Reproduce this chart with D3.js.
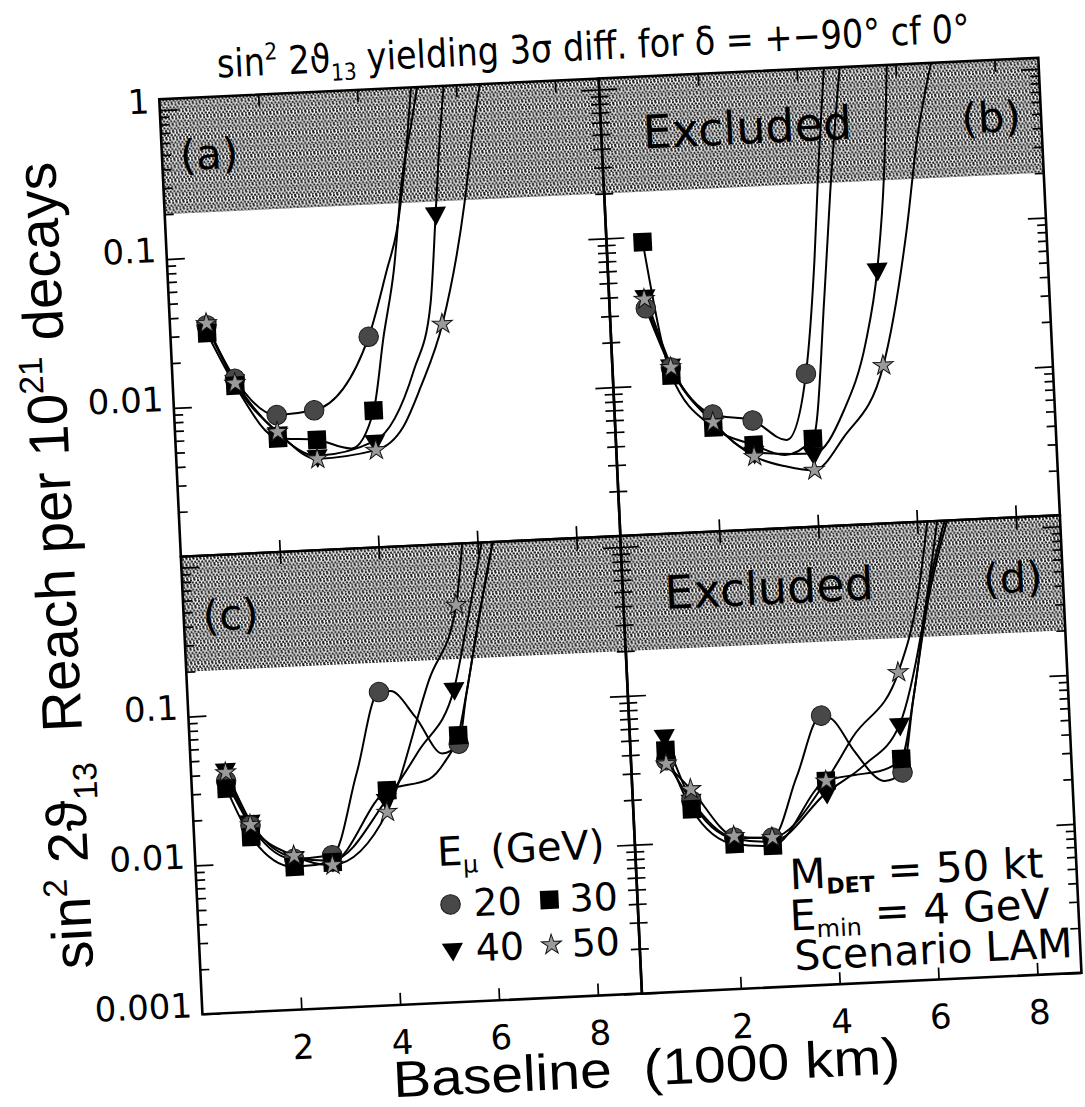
<!DOCTYPE html>
<html>
<head>
<meta charset="utf-8">
<script src="https://cdn.jsdelivr.net/npm/d3@7"></script>
<style>
  body { margin: 0; background: #fff; }
  svg { display: block; }
</style>
</head>
<body>
<script>
// ---------------- data ----------------
// each point: [baseline (1000 km), sin^2 2theta13 reach, 1 = marker drawn]
const X_DOMAIN = [0, 8.89];
const Y_DOMAIN = [0.001, 1.185];
const X_TICKS = [2, 4, 6, 8];
const Y_LABELS_TOP = [1, 0.1, 0.01];
const Y_LABELS_BOTTOM = [0.1, 0.01, 0.001];
const EXCLUDED_LIMIT = 0.2;
const PANEL_LABELS = ["(a)", "(b)", "(c)", "(d)"];
const LEGEND_ENERGIES = ["20", "30", "40", "50"];

const aCircle   = [[0.74,0.035,1],[1.26,0.015,1],[2.07,0.0083,1],[2.83,0.0087,1],[4.0,0.026,1],[4.43,0.072,0],[4.67,0.132,0],[4.97,0.56,0],[5.1,1.25,0]];
const aSquare   = [[0.74,0.031,1],[1.26,0.0135,1],[2.07,0.0058,1],[2.86,0.0055,1],[3.55,0.0047,0],[4.03,0.0083,1],[4.3,0.0257,0],[4.57,0.071,0],[4.82,0.286,0],[5.08,0.72,0],[5.23,1.25,0]];
const aTriangle = [[0.74,0.034,1],[1.26,0.0145,1],[2.07,0.0063,1],[2.85,0.0043,1],[4.03,0.0052,1],[4.88,0.015,0],[5.28,0.0415,0],[5.47,0.167,1],[5.59,0.42,0],[5.76,1.25,0]];
const aStar     = [[0.74,0.036,1],[1.26,0.014,1],[2.07,0.0064,1],[2.85,0.0041,1],[4.04,0.0045,1],[4.61,0.0063,0],[5.0,0.0115,0],[5.5,0.030,1],[6.06,0.19,0],[6.28,0.53,0],[6.5,1.25,0]];

const bCircle   = [[0.73,0.033,1],[1.18,0.013,1],[1.98,0.0061,1],[2.78,0.0054,1],[3.45,0.0039,0],[3.9,0.0107,1],[4.18,0.0615,0],[4.36,0.286,0],[4.56,1.25,0]];
const bSquare   = [[0.73,0.092,1],[1.18,0.0115,1],[1.98,0.005,1],[2.78,0.0037,1],[3.4,0.0031,0],[3.98,0.0039,1],[4.35,0.036,0],[4.56,0.17,0],[4.88,1.25,0]];
const bTriangle = [[0.73,0.04,1],[1.18,0.0135,1],[1.98,0.0054,1],[2.78,0.0033,1],[3.98,0.0031,1],[4.63,0.0059,0],[5.13,0.0163,0],[5.44,0.051,1],[5.66,0.21,0],[5.83,1.25,0]];
const bStar     = [[0.71,0.038,1],[1.18,0.013,1],[1.98,0.0054,1],[2.78,0.0031,1],[3.4,0.0026,0],[3.98,0.0024,1],[4.6,0.0039,0],[5.47,0.0115,1],[6.08,0.096,0],[6.35,0.345,0],[6.74,1.25,0]];

const cCircle   = [[0.70,0.036,1],[1.15,0.0178,1],[2.0,0.0103,1],[2.77,0.0106,1],[3.34,0.0367,0],[3.87,0.127,1],[4.1,0.128,0],[4.58,0.0843,0],[5.09,0.047,0],[5.43,0.054,1],[5.62,0.11,0],[5.96,0.377,0],[6.32,1.25,0]];
const cSquare   = [[0.70,0.032,1],[1.15,0.0149,1],[2.0,0.0091,1],[2.77,0.0095,1],[3.94,0.0277,1],[4.8,0.032,0],[5.15,0.042,0],[5.43,0.0615,1],[5.64,0.12,0],[5.98,0.4,0],[6.33,1.25,0]];
const cTriangle = [[0.70,0.043,1],[1.15,0.019,1],[2.0,0.0105,1],[2.77,0.0098,1],[3.92,0.024,1],[4.62,0.05,0],[5.39,0.127,1],[5.68,0.31,0],[6.1,1.25,0]];
const cStar     = [[0.70,0.041,1],[1.15,0.018,1],[2.0,0.0108,1],[2.77,0.0091,1],[3.92,0.0198,1],[4.9,0.15,0],[5.51,0.46,1],[5.7,1.25,0]];

const dCircle   = [[0.71,0.036,1],[1.18,0.019,1],[2.01,0.0104,1],[2.78,0.0101,1],[3.33,0.0254,0],[3.88,0.064,1],[4.1,0.06,0],[4.51,0.0364,0],[5.1,0.0223,0],[5.47,0.0251,1],[5.75,0.075,0],[6.15,0.35,0],[6.63,1.25,0]];
const dSquare   = [[0.71,0.042,1],[1.18,0.0166,1],[2.01,0.0094,1],[2.78,0.0089,1],[3.92,0.0233,1],[4.5,0.025,0],[5.0,0.026,0],[5.46,0.031,1],[5.78,0.085,0],[6.12,0.35,0],[6.58,1.25,0]];
const dTriangle = [[0.70,0.0527,1],[1.18,0.019,1],[2.01,0.0102,1],[2.78,0.0095,1],[3.92,0.0195,1],[4.71,0.029,0],[5.46,0.053,1],[5.99,0.22,0],[6.42,1.25,0]];
const dStar     = [[0.71,0.034,1],[1.18,0.0226,1],[2.01,0.0106,1],[2.78,0.0101,1],[3.92,0.0233,1],[4.5,0.045,0],[5.48,0.118,1],[5.94,0.37,0],[6.22,1.25,0]];

// ---------------- drawing ----------------
const FONT_GEO = "'DejaVu Sans', sans-serif";
const FONT_HELV = "'Liberation Sans', Arial, sans-serif";

const svg = d3.select("body").append("svg").attr("width", 1085).attr("height", 1107);
const defs = svg.append("defs");

// stipple texture for the excluded region
const pat = defs.append("pattern").attr("id", "stipple")
  .attr("patternUnits", "userSpaceOnUse").attr("width", 7).attr("height", 7);
pat.append("rect").attr("width", 7).attr("height", 7).attr("fill", "#fff");
pat.selectAll("circle").data([[1,1.2],[4.6,0.6],[2.8,3.4],[6.2,3.8],[0.6,5.6],[4.2,5.9]])
  .join("circle").attr("cx", d => d[0]).attr("cy", d => d[1]).attr("r", 1.2).attr("fill", "#1a1a1a");

const root = svg.append("g").attr("transform", "rotate(-2.7,600,550)");

const COLS = [[181, 621], [621, 1061]];
const ROWS = [[79, 537], [537, 995]];

const panels = [
  {key: "a", col: 0, row: 0, excl: false, series: [aCircle, aSquare, aTriangle, aStar]},
  {key: "b", col: 1, row: 0, excl: true,  series: [bCircle, bSquare, bTriangle, bStar]},
  {key: "c", col: 0, row: 1, excl: false, series: [cCircle, cSquare, cTriangle, cStar]},
  {key: "d", col: 1, row: 1, excl: true,  series: [dCircle, dSquare, dTriangle, dStar]}
];
const KINDS = ["circle", "square", "triangle", "star"];

function markerPath(kind) {
  if (kind === "circle") return d3.symbol(d3.symbolCircle, 300)();
  if (kind === "square") return d3.symbol(d3.symbolSquare, 340)();
  if (kind === "triangle") return d3.symbol(d3.symbolTriangle, 195)();
  return d3.symbol(d3.symbolStar, 125)();
}
function styleMarker(sel, kind) {
  sel.attr("d", markerPath(kind));
  if (kind === "circle") sel.attr("fill", "#484848").attr("stroke", "#1a1a1a").attr("stroke-width", 1);
  else if (kind === "square") sel.attr("fill", "#000");
  else if (kind === "triangle") sel.attr("fill", "#000");
  else sel.attr("fill", "#9a9a9a").attr("stroke", "#111").attr("stroke-width", 1);
}

// y tick values (decades and 2..9 minor)
const yTickVals = [];
for (let e = -3; e <= 0; e++) for (let k = 1; k <= 9; k++) {
  const v = k * Math.pow(10, e);
  if (v >= Y_DOMAIN[0] && v <= Y_DOMAIN[1]) yTickVals.push(+v.toPrecision(3));
}
const isMajor = v => Math.abs(Math.log10(v) - Math.round(Math.log10(v))) < 1e-6;

panels.forEach((p, i) => {
  const [x0, x1] = COLS[p.col], [y0, y1] = ROWS[p.row];
  const x = d3.scaleLinear().domain(X_DOMAIN).range([x0, x1]);
  const y = d3.scaleLog().domain(Y_DOMAIN).range([y1, y0]);
  const g = root.append("g").attr("class", "panel-" + p.key);
  const clipId = "clip-" + p.key;
  defs.append("clipPath").attr("id", clipId).append("rect")
    .attr("x", x0).attr("y", y0).attr("width", x1 - x0).attr("height", y1 - y0);

  // excluded band
  g.append("rect").attr("x", x0).attr("y", y0).attr("width", x1 - x0)
    .attr("height", y(EXCLUDED_LIMIT) - y0).attr("fill", "url(#stipple)");

  // axes (ticks inward on all sides)
  const tickStyle = s => { s.select(".domain").remove(); s.selectAll(".tick line").attr("stroke", "#000").attr("stroke-width", 1.7); };
  const aL = g.append("g").attr("transform", `translate(${x0},0)`)
    .call(d3.axisLeft(y).tickValues(yTickVals).tickSizeInner(-9).tickSizeOuter(0).tickFormat(""));
  aL.selectAll(".tick line").attr("x2", d => isMajor(d) ? 18 : 9); tickStyle(aL);
  const aR = g.append("g").attr("transform", `translate(${x1},0)`)
    .call(d3.axisRight(y).tickValues(yTickVals).tickSizeInner(-9).tickSizeOuter(0).tickFormat(""));
  aR.selectAll(".tick line").attr("x2", d => isMajor(d) ? -18 : -9); tickStyle(aR);
  const aT = g.append("g").attr("transform", `translate(0,${y0})`)
    .call(d3.axisTop(x).tickValues(X_TICKS).tickSizeInner(-12).tickSizeOuter(0).tickFormat(""));
  tickStyle(aT);
  const aB = g.append("g").attr("transform", `translate(0,${y1})`)
    .call(d3.axisBottom(x).tickValues(X_TICKS).tickSizeInner(-12).tickSizeOuter(0)
      .tickPadding(25).tickFormat(p.row === 1 ? d3.format("d") : ""));
  tickStyle(aB);
  aB.selectAll("text").attr("font-family", FONT_GEO).attr("font-size", 34).attr("fill", "#000");

  if (p.col === 0) {
    const labs = p.row === 0 ? Y_LABELS_TOP : Y_LABELS_BOTTOM;
    const aLab = g.append("g").attr("transform", `translate(${x0},0)`)
      .call(d3.axisLeft(y).tickValues(labs).tickSize(0).tickPadding(10).tickFormat(d => String(d)));
    aLab.select(".domain").remove();
    aLab.selectAll("text").attr("font-family", FONT_GEO).attr("font-size", 34)
      .attr("fill", "#000").attr("dy", "0.06em");
  }

  // frame
  g.append("rect").attr("x", x0).attr("y", y0).attr("width", x1 - x0).attr("height", y1 - y0)
    .attr("fill", "none").attr("stroke", "#000").attr("stroke-width", 2.6);

  // curves
  const line = d3.line().x(d => x(d[0])).y(d => y(d[1])).curve(d3.curveMonotoneX);
  const lg = g.append("g").attr("clip-path", `url(#${clipId})`);
  p.series.forEach(s => {
    lg.append("path").datum(s).attr("d", line).attr("fill", "none")
      .attr("stroke", "#000").attr("stroke-width", 2);
  });

  // markers: triangles, circles, squares, stars
  [2, 0, 1, 3].forEach(si => {
    const kind = KINDS[si];
    g.append("g").selectAll("path").data(p.series[si].filter(d => d[2] === 1)).join("path")
      .attr("transform", d => `translate(${x(d[0])},${y(d[1])})` + (kind === "triangle" ? " rotate(180)" : ""))
      .call(sel => styleMarker(sel, kind));
  });

  // panel labels
  const base = p.row === 0 ? y0 + 72 : y0 + 75;
  g.append("text").attr("x", p.col === 0 ? x0 + 47 : x1 - 50).attr("y", base)
    .attr("text-anchor", "middle").attr("font-family", FONT_GEO).attr("font-size", 42)
    .text(PANEL_LABELS[i]);
  if (p.excl) {
    g.append("text").attr("x", x0 + 146).attr("y", base).attr("text-anchor", "middle")
      .attr("font-family", FONT_GEO).attr("font-size", 46).text("Excluded");
  }

  // legend in panel (c)
  if (p.key === "c") {
    const lt = g.append("text").attr("x", 423).attr("y", 858).attr("font-family", FONT_GEO).attr("font-size", 40);
    lt.append("tspan").text("E");
    lt.append("tspan").attr("font-size", 24).attr("dy", 8).text("μ");
    lt.append("tspan").attr("dy", -8).text(" (GeV)");
    const rowsL = [[0, 1, 897], [2, 3, 942]];
    rowsL.forEach(([ka, kb, cy]) => {
      [[ka, 434, 457], [kb, 533, 553]].forEach(([k, mx, tx]) => {
        g.append("path").attr("transform", `translate(${mx},${cy})` + (KINDS[k] === "triangle" ? " rotate(180)" : ""))
          .call(sel => styleMarker(sel, KINDS[k]));
        g.append("text").attr("x", tx).attr("y", cy + 13).attr("font-family", FONT_GEO)
          .attr("font-size", 38).text(LEGEND_ENERGIES[k]);
      });
    });
  }

  // detector info in panel (d)
  if (p.key === "d") {
    const t1 = g.append("text").attr("x", 774).attr("y", 898).attr("font-family", FONT_GEO).attr("font-size", 42);
    t1.append("tspan").text("M");
    t1.append("tspan").attr("font-size", 22).attr("font-weight", "bold").attr("dy", 6).text("DET");
    t1.append("tspan").attr("dy", -6).text(" = 50 kt");
    const t2 = g.append("text").attr("x", 772).attr("y", 939).attr("font-family", FONT_GEO).attr("font-size", 42);
    t2.append("tspan").text("E");
    t2.append("tspan").attr("font-size", 24).attr("dy", 8).text("min");
    t2.append("tspan").attr("dy", -8).text(" = 4 GeV");
    g.append("text").attr("x", 775).attr("y", 979).attr("font-family", FONT_GEO).attr("font-size", 41)
      .text("Scenario LAM");
  }
});

// rich text helper: segs = [[text, 0 normal | 1 superscript | -1 subscript]]
function rich(sel, segs, fs) {
  sel.attr("font-size", fs);
  sel.selectAll("tspan").remove();
  let cur = 0;
  segs.forEach(([t, k]) => {
    const target = k === 1 ? -0.4 * fs : k === -1 ? 0.22 * fs : 0;
    sel.append("tspan").attr("font-size", k ? fs * 0.6 : fs).attr("dy", target - cur).text(t);
    cur = target;
  });
}
// fit by font size
function fit(sel, segs, fs, width) {
  rich(sel, segs, fs);
  const w = sel.node().getComputedTextLength();
  rich(sel, segs, fs * width / w);
}
// fit by horizontal compression (keeps glyph height)
function fitCondensed(sel, segs, fs, width, cx, by) {
  rich(sel, segs, fs);
  const w = sel.node().getComputedTextLength();
  sel.attr("x", 0).attr("y", 0)
    .attr("transform", `translate(${cx},${by}) scale(${width / w},1)`);
}

// title (condensed face)
const title = root.append("text").attr("text-anchor", "middle")
  .attr("font-family", FONT_GEO).attr("fill", "#000");
fitCondensed(title, [["sin", 0], ["2", 1], [" 2ϑ", 0], ["13", -1], [" yielding 3σ diff. for δ = +−90° cf 0°", 0]], 39, 754, 617, 60);

// y axis title
const ytitle = root.append("text").attr("transform", "translate(74,540) rotate(-90)")
  .attr("text-anchor", "middle").attr("font-family", FONT_HELV).attr("fill", "#000");
fit(ytitle, [["sin", 0], ["2", 1], [" 2ϑ", 0], ["13", -1], ["\u00a0\u00a0Reach per 10", 0], ["21", 1], [" decays", 0]], 44, 808);

// x axis title
const xtitle = root.append("text").attr("text-anchor", "middle")
  .attr("font-family", FONT_HELV).attr("fill", "#000");
fitCondensed(xtitle, [["Baseline\u00a0\u00a0(1000 km)", 0]], 51, 508, 622, 1087);
</script>
</body>
</html>
